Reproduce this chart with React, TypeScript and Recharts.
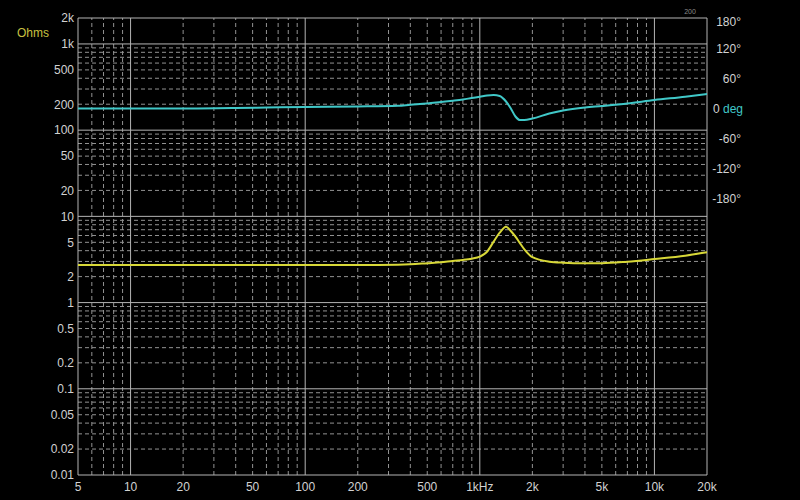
import { LineChart, Line, XAxis, YAxis, ReferenceLine } from 'recharts'

// frequency (Hz), impedance (ohms), phase (deg)
const freqs = [5, 10, 20, 40, 60, 100, 200, 340, 400, 500, 600, 700, 800, 900, 1000, 1100, 1200, 1300, 1413, 1500, 1600, 1700, 1800, 2000, 2500, 3000, 4000, 5000, 7000, 10000, 15000, 20000]
const ohms = [2.72, 2.72, 2.72, 2.72, 2.72, 2.72, 2.72, 2.75, 2.78, 2.86, 2.93, 3.04, 3.12, 3.23, 3.41, 3.89, 5.09, 6.47, 7.6, 6.82, 5.82, 4.87, 4.15, 3.36, 2.98, 2.9, 2.86, 2.86, 2.98, 3.2, 3.5, 3.83]
const phase = [-1, -1, -1, 0, 1, 2, 3, 4.5, 6.5, 9, 12, 14.5, 17, 20, 22.5, 25, 26, 24, 13, 0, -17, -24, -24, -21, -11, -5, 1, 4, 9, 16, 22.5, 28]

const xTicks = [5, 10, 20, 50, 100, 200, 500, 1000, 2000, 5000, 10000, 20000]
const xTickLabels = ['5', '10', '20', '50', '100', '200', '500', '1kHz', '2k', '5k', '10k', '20k']
const ohmTicks = [0.01, 0.02, 0.05, 0.1, 0.2, 0.5, 1, 2, 5, 10, 20, 50, 100, 200, 500, 1000, 2000]
const ohmTickLabels = ['0.01', '0.02', '0.05', '0.1', '0.2', '0.5', '1', '2', '5', '10', '20', '50', '100', '200', '500', '1k', '2k']
const phaseTicks = [-180, -120, -60, 0, 60, 120, 180]

const xDecades = [10, 100, 1000, 10000]
const yDecades = [0.1, 1, 10, 100, 1000]
const mults = [2, 3, 4, 5, 6, 7, 8, 9]
const xMinor = [1, 10, 100, 1000]
  .flatMap((d) => mults.map((m) => m * d))
  .filter((v) => v > 5 && v < 20000 && !xDecades.includes(v))
const yMinor = [0.01, 0.1, 1, 10, 100]
  .flatMap((d) => mults.map((m) => +(m * d).toPrecision(3)))

const data = freqs.map((f, i) => ({ f, ohm: ohms[i], deg: phase[i] }))

const FONT = '"Liberation Sans", Arial, sans-serif'
const SOLID = '#b4b4b4'
const DASH = '#929292'

const leftTick = (props: any) => {
  const i = ohmTicks.indexOf(props.payload.value)
  return (
    <text x={74} y={props.y} dy="0.36em" textAnchor="end" fill="#d2d2d2" fontSize={12} fontFamily={FONT}>
      {ohmTickLabels[i]}
    </text>
  )
}

const rightTick = (props: any) => {
  const v = props.payload.value
  const y = props.y + (v === 180 ? 4 : 1)
  if (v === 0) {
    return (
      <text x={743} y={y} dy="0.36em" textAnchor="end" fontSize={12} fontFamily={FONT}>
        <tspan fill="#d2d2d2">0 </tspan>
        <tspan fill="#40c8c8">deg</tspan>
      </text>
    )
  }
  return (
    <text x={741} y={y} dy="0.36em" textAnchor="end" fill="#d2d2d2" fontSize={12} fontFamily={FONT}>
      {v + '°'}
    </text>
  )
}

const bottomTick = (props: any) => {
  const i = xTicks.indexOf(props.payload.value)
  return (
    <text x={props.x} y={487} dy="0.36em" textAnchor="middle" fill="#d2d2d2" fontSize={12} fontFamily={FONT}>
      {xTickLabels[i]}
    </text>
  )
}

export default function App() {
  return (
    <div style={{ position: 'fixed', left: 0, top: 0, width: 800, height: 500, background: '#000' }}>
      <LineChart width={800} height={500} data={data} margin={{ top: 18, right: 0, bottom: 0, left: 0 }}>
        <XAxis dataKey="f" type="number" scale="log" domain={[5, 20000]} ticks={xTicks} allowDataOverflow
          axisLine={false} tickLine={false} tick={bottomTick} height={25} interval={0} />
        <YAxis yAxisId="ohm" scale="log" domain={[0.01, 2000]} ticks={ohmTicks} allowDataOverflow
          axisLine={false} tickLine={false} tick={leftTick} width={78} interval={0} />
        <YAxis yAxisId="deg" orientation="right" type="number" domain={[-734, 180]} ticks={phaseTicks} allowDataOverflow
          axisLine={false} tickLine={false} tick={rightTick} width={93} interval={0} />

        {yMinor.map((v) => (
          <ReferenceLine key={'ym' + v} yAxisId="ohm" y={v} stroke={DASH} strokeDasharray="4 3" />
        ))}
        {xMinor.map((v) => (
          <ReferenceLine key={'xm' + v} yAxisId="ohm" x={v} stroke={DASH} strokeDasharray="4 3" />
        ))}
        {yDecades.map((v) => (
          <ReferenceLine key={'yd' + v} yAxisId="ohm" y={v} stroke={SOLID} />
        ))}
        {xDecades.map((v) => (
          <ReferenceLine key={'xd' + v} yAxisId="ohm" x={v} stroke={SOLID} />
        ))}
        <ReferenceLine yAxisId="ohm" y={2000} stroke={SOLID} />
        <ReferenceLine yAxisId="ohm" y={0.01} stroke={SOLID} />
        <ReferenceLine yAxisId="ohm" x={5} stroke={SOLID} />
        <ReferenceLine yAxisId="ohm" x={20000} stroke={SOLID} />

        <Line yAxisId="deg" dataKey="deg" type="monotone" stroke="#40c8c8" strokeWidth={2} dot={false} isAnimationActive={false} />
        <Line yAxisId="ohm" dataKey="ohm" type="monotone" stroke="#d8d838" strokeWidth={2} dot={false} isAnimationActive={false} />

        <text x={17} y={33} dy="0.36em" fill="#c8c040" fontSize={12} fontFamily={FONT}>Ohms</text>
        <text x={690} y={14} textAnchor="middle" fill="#8a8a8a" fontSize={7} fontFamily={FONT}>200</text>
      </LineChart>
    </div>
  )
}
